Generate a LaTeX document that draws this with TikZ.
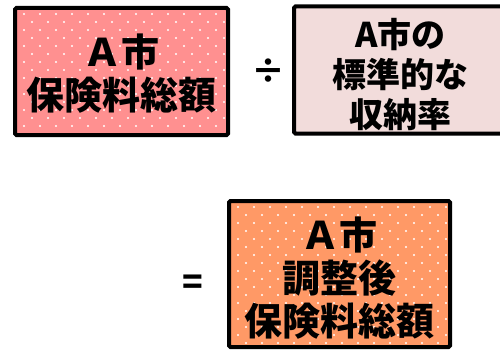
\documentclass[tikz,border=0pt]{standalone}
\usepackage{fontspec}
\newfontfamily\cjk{Noto Sans CJK JP}[BoldFont={Noto Sans CJK JP Black}]
\usetikzlibrary{calc}
\usetikzlibrary{positioning}
\usetikzlibrary{shadows}
\definecolor{pinkfill}{HTML}{FF9090}
\definecolor{palefill}{HTML}{F2DCDB}
\definecolor{orangefill}{HTML}{FF9966}

\tikzset{
  sumbox/.style={draw=black, line width=4pt, rounded corners=1.5pt, minimum width=213pt, minimum height=127pt, inner sep=0pt,
    drop shadow={shadow xshift=1.5pt, shadow yshift=-1.5pt, opacity=0.35}},
  dotfill/.style={path picture={
    \foreach \r in {0,...,19} \foreach \c in {0,...,14}
      \fill[white] ([xshift={(9+\c*16+mod(\r,2)*8)*1pt}, yshift={-(6+\r*8)*1pt}]path picture bounding box.north west) circle (1.1pt);}},
  boxtext/.style={align=center, font=\cjk\bfseries\fontsize{38}{43}\selectfont, inner sep=0pt},
  ratetext/.style={align=center, font=\cjk\bfseries\fontsize{34}{40}\selectfont, inner sep=0pt},
  optext/.style={font=\cjk\bfseries\fontsize{34}{34}\selectfont, inner sep=0pt}
}

\begin{document}
\begin{tikzpicture}[x=1pt,y=-1pt]
\useasboundingbox (0,0) rectangle (500,350);
\clip (0,0) rectangle (500,350);
\node[sumbox, dotfill, fill=pinkfill]   (total)    at (121.5, 71.5) {};
\node[sumbox, fill=palefill]            (rate)     at (400.5, 70)   {};
\node[sumbox, dotfill, fill=orangefill, minimum width=221pt, minimum height=146pt] (adjusted) at (339.5, 274) {};
\node[boxtext]  (totaltext)    at ($(total.center)+(0,2.5)$)    {Ａ市\\保険料総額};
\node[ratetext] (ratetext)     at ($(rate.center)+(0,5)$)       {A市の\\標準的な\\収納率};
\node[boxtext]  (adjustedtext) at ($(adjusted.center)+(0,4)$)   {Ａ市\\調整後\\保険料総額};
\node[optext]   (divsign)      at (268, 71)  {÷};
\node[optext]   (eqsign)       at (193, 285) {=};
\end{tikzpicture}
\end{document}
